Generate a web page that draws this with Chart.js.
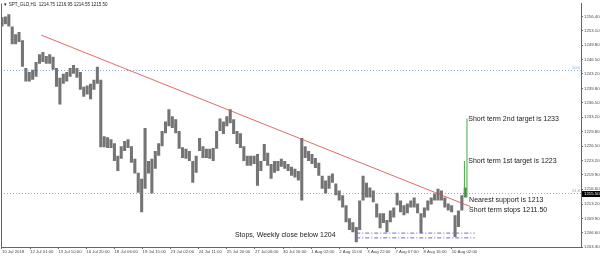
<!DOCTYPE html>
<html><head><meta charset="utf-8">
<script src="https://cdn.jsdelivr.net/npm/chart.js@4"></script>
<style>html,body{margin:0;padding:0;background:#fff;}canvas{display:block;}</style>
</head><body>
<canvas id="c" width="600" height="258"></canvas>
<script>
const symbolTitle = 'SPT_GLD,H1  1214.75 1216.95 1214.55 1215.50';
const xTickBars = [0,33,66,99,132,165,198,231,264,297,330,363,396,429,462,495,528];
const xTickLabels = ['10 Jul 2018','12 Jul 01:00','13 Jul 10:00','16 Jul 20:00','18 Jul 06:00','19 Jul 15:00','23 Jul 02:00','24 Jul 11:00','25 Jul 20:00','27 Jul 06:00','30 Jul 16:00','1 Aug 02:00','2 Aug 11:00','3 Aug 22:00','7 Aug 07:00','8 Aug 16:00','10 Aug 02:00'];
const yTickValues = [1256.40,1253.10,1249.80,1246.50,1243.20,1239.80,1236.50,1233.20,1229.80,1226.50,1223.20,1219.90,1216.60,1213.20,1209.90,1206.60,1203.30];
const yTickLabels = ['1256.40','1253.10','1249.80','1246.50','1243.20','1239.80','1236.50','1233.20','1229.80','1226.50','1223.20','1219.90','1216.60','1213.20','1209.90','1206.60','1203.30'];
const sampleHours = 4; // one sample per 4 hourly bars
const priceLow = [1254.1,1254.6,1254.1,1250.0,1250.0,1250.5,1244.8,1241.4,1241.4,1241.8,
1242.5,1245.5,1245.9,1245.5,1245.5,1244.1,1240.2,1236.1,1240.9,1241.4,
1242.5,1243.2,1242.3,1239.5,1237.9,1238.4,1237.3,1239.5,1240.9,1226.3,
1226.3,1226.1,1226.1,1223.1,1220.8,1223.6,1225.4,1226.1,1222.7,1220.2,
1215.8,1211.3,1216.7,1220.2,1215.6,1221.3,1224.3,1226.5,1229.5,1231.1,
1230.7,1229.5,1225.9,1223.8,1223.6,1223.1,1218.1,1220.4,1225.4,1223.8,
1223.8,1223.6,1223.1,1225.9,1230.0,1229.3,1231.1,1231.8,1229.3,1227.0,
1226.1,1223.1,1222.0,1222.0,1222.4,1217.4,1220.8,1223.1,1222.0,1219.0,
1220.4,1220.8,1221.8,1221.3,1220.8,1219.7,1219.3,1218.6,1214.0,1223.8,
1223.1,1222.4,1221.5,1219.7,1216.7,1215.6,1216.7,1218.1,1215.2,1214.0,
1212.4,1209.0,1207.2,1206.7,1204.4,1207.2,1214.0,1214.7,1214.7,1213.6,
1210.1,1207.6,1208.8,1206.7,1209.0,1210.1,1212.9,1211.3,1210.6,1211.1,
1212.4,1212.4,1211.1,1206.5,1210.1,1211.7,1213.1,1214.0,1214.0,1214.0,
1212.4,1211.7,1211.3,1205.6,1207.9,1211.7,1214.7];
const priceHigh = [1256.2,1256.4,1256.9,1254.1,1252.3,1252.8,1250.9,1244.5,1243.6,1244.1,
1245.9,1247.7,1248.2,1247.3,1247.7,1247.1,1244.5,1242.3,1243.2,1243.6,
1244.5,1245.2,1244.5,1243.6,1240.2,1240.5,1240.9,1241.8,1244.8,1241.8,
1228.8,1228.6,1228.1,1227.2,1224.3,1226.5,1227.7,1228.1,1226.5,1223.6,
1220.4,1219.0,1230.7,1223.1,1223.6,1225.4,1227.2,1230.0,1232.2,1235.0,
1233.4,1232.7,1230.0,1226.3,1225.9,1225.4,1223.1,1224.3,1228.4,1226.5,
1225.9,1225.9,1226.1,1230.0,1232.9,1232.2,1233.4,1235.0,1232.7,1230.0,
1229.5,1226.5,1224.3,1224.3,1224.3,1224.7,1223.1,1227.0,1225.0,1222.4,
1223.1,1223.1,1223.6,1223.1,1222.4,1221.8,1221.3,1220.8,1228.4,1226.5,
1225.4,1224.7,1223.8,1222.7,1219.7,1218.6,1219.7,1220.2,1217.9,1216.3,
1215.2,1212.9,1209.9,1209.0,1207.9,1214.0,1219.7,1218.1,1217.0,1216.3,
1213.3,1211.1,1211.1,1209.5,1211.7,1212.4,1215.8,1214.0,1212.9,1213.3,
1214.0,1214.7,1213.3,1211.1,1212.4,1214.0,1214.7,1215.6,1216.7,1216.3,
1214.7,1213.3,1212.9,1210.6,1211.7,1215.2,1217.0];
const lastClose = 1215.50;
const trendBars = [46, 550];
const trendPrices = [1252.1, 1212.6];
const fibLevels = [1244.1, 1215.8];
const fibLabels = ['50.0', '61.8'];
const stopBars = [416, 555];
const stopLevels = [1206.5, 1205.4];
const targetBars = [543, 546];
const targetTops = [1223.1, 1232.9];
const targetBases = [1215.0, 1214.7];
const noteTexts = ['Short term 2nd target is 1233','Short term 1st target is 1223','Nearest support is 1213','Short term stops 1211.50','Stops, Weekly close below 1204'];
const noteBars = [547.5, 547.5, 548.5, 548.5, 273.5];
const notePrices = [1232.7, 1223.1, 1214.2, 1211.7, 1206.0];

const FONT = 'Liberation Sans';
const candles = priceLow.map((lo, i) => ({x: i * sampleHours, y: [lo, priceHigh[i]]}));

const datasets = [
  {type:'bar', data: candles, backgroundColor:'#747474', borderWidth:0, barPercentage:0.9, categoryPercentage:1, order:5},
  {type:'line', data: trendBars.map((b,i)=>({x:b,y:trendPrices[i]})), borderColor:'rgba(225,80,80,0.85)', borderWidth:1, pointRadius:0, order:1},
];
stopLevels.forEach(lv => datasets.push({type:'line', data: stopBars.map(b=>({x:b,y:lv})), borderColor:'#6b6bdc', borderWidth:1, borderDash:[4,2,1,2], pointRadius:0, order:1}));
targetBars.forEach((b,i) => datasets.push({type:'line', data:[{x:b,y:targetBases[i]},{x:b,y:targetTops[i]}], borderColor:'#4aa84a', borderWidth:1, pointRadius:0, order:1}));

const overlay = {
  id:'overlay',
  beforeDatasetsDraw(chart){
    const {ctx, chartArea:a, scales:{y}} = chart;
    ctx.save();
    ctx.strokeStyle = '#8fb0d4'; ctx.lineWidth = 1; ctx.setLineDash([1,2]);
    fibLevels.forEach((lv,i) => {
      const py = Math.round(y.getPixelForValue(lv)) + 0.5;
      ctx.beginPath(); ctx.moveTo(a.left, py); ctx.lineTo(a.right, py); ctx.stroke();
      ctx.fillStyle = '#86a8cf'; ctx.font = '4px ' + FONT; ctx.textAlign = 'right'; ctx.textBaseline = 'bottom';
      ctx.fillText(fibLabels[i], a.right - 1, py - 0.5);
    });
    ctx.restore();
  },
  afterDraw(chart){
    const {ctx, chartArea:a, scales:{x,y}} = chart;
    ctx.save();
    ctx.strokeStyle = '#666'; ctx.lineWidth = 1;
    ctx.beginPath(); ctx.moveTo(a.left + 0.5, a.top); ctx.lineTo(a.left + 0.5, a.bottom); ctx.stroke();
    ctx.fillStyle = '#222'; ctx.font = '4.5px ' + FONT; ctx.textAlign = 'left'; ctx.textBaseline = 'middle';
    ctx.fillText('\u25BC ' + symbolTitle, 3, 5);
    ctx.font = '7px ' + FONT; ctx.fillStyle = '#1a1a1a';
    noteTexts.forEach((t,i) => ctx.fillText(t, x.getPixelForValue(noteBars[i]), y.getPixelForValue(notePrices[i])));
    const py = y.getPixelForValue(lastClose);
    ctx.fillStyle = '#000'; ctx.fillRect(a.right + 1, py - 3, 19, 6);
    ctx.fillStyle = '#fff'; ctx.font = '4.3px ' + FONT; ctx.textAlign = 'left';
    ctx.fillText(lastClose.toFixed(2), a.right + 3, py);
    ctx.restore();
  }
};

new Chart(document.getElementById('c'), {
  type:'bar',
  data:{datasets},
  options:{
    responsive:false, animation:false, devicePixelRatio:1,
    layout:{padding:{left:1, top:1, right:0, bottom:0}},
    plugins:{legend:{display:false}, tooltip:{enabled:false}},
    scales:{
      x:{type:'linear', min:-1.17, max:679.9, offset:false,
        afterFit(s){ s.height = 11; },
        afterBuildTicks(s){ s.ticks = xTickBars.map(v=>({value:v})); },
        ticks:{callback:(v,i)=>xTickLabels[i], align:'start', maxRotation:0, autoSkip:false, font:{size:4.3, family:FONT}, color:'#444', padding:0.5},
        grid:{drawOnChartArea:false, drawTicks:true, tickLength:2, color:'#666', offset:false},
        border:{display:true, color:'#666'}},
      y:{position:'right', min:1203.30, max:1259.36, beginAtZero:false,
        afterFit(s){ s.width = 19; },
        afterBuildTicks(s){ s.ticks = yTickValues.map(v=>({value:v})); },
        ticks:{callback:(v,i)=>yTickLabels[i], autoSkip:false, font:{size:4.3, family:FONT}, color:'#444', padding:1},
        grid:{drawOnChartArea:false, drawTicks:true, tickLength:2, color:'#666'},
        border:{display:true, color:'#666'}}
    }
  },
  plugins:[overlay]
});
</script>
</body></html>
